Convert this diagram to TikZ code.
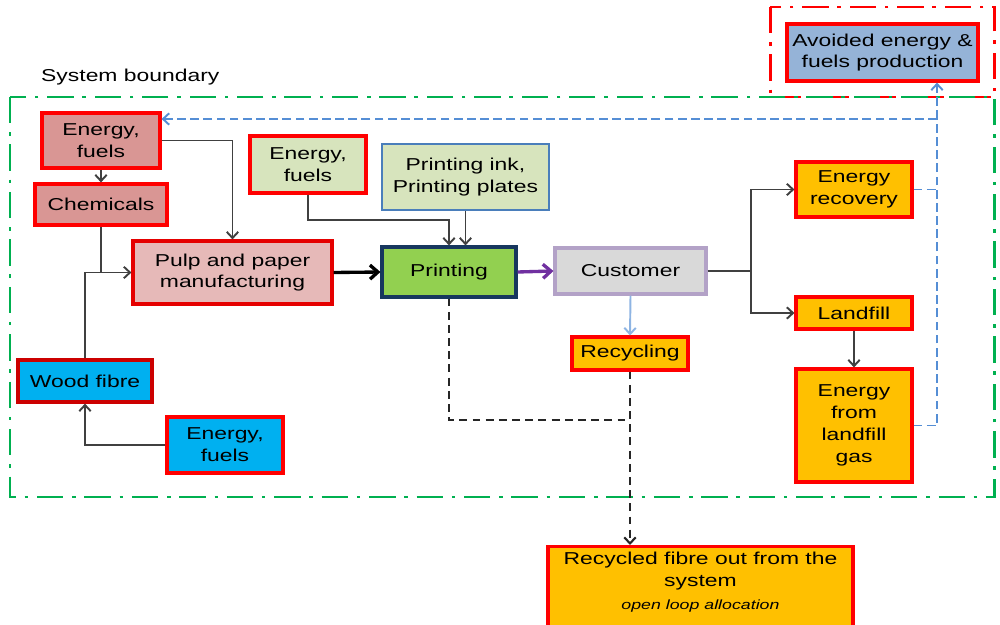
\documentclass[tikz,border=0pt]{standalone}
\usepackage{fontspec}
\setmainfont[FakeStretch=1.33]{Liberation Sans}
\usetikzlibrary{arrows.meta}

\definecolor{redfill}{HTML}{D99694}
\definecolor{pinkfill}{HTML}{E6B9B8}
\definecolor{greenfill}{HTML}{D7E4BD}
\definecolor{printgreen}{HTML}{92D050}
\definecolor{navy}{HTML}{17375E}
\definecolor{inkblue}{HTML}{4A7EBB}
\definecolor{custgrey}{HTML}{D9D9D9}
\definecolor{lilac}{HTML}{B3A2C7}
\definecolor{amber}{HTML}{FFC000}
\definecolor{skyfill}{HTML}{00B0F0}
\definecolor{avoidblue}{HTML}{95B3D7}
\definecolor{flowgrey}{HTML}{404040}
\definecolor{purpleflow}{HTML}{7030A0}
\definecolor{dashblue}{HTML}{558ED5}
\definecolor{paleblue}{HTML}{8EB4E3}
\definecolor{boundgreen}{HTML}{00B050}

\tikzset{
  box/.style={draw=red, line width=1.8pt, align=center, inner sep=2pt,
    font=\fontsize{9.8}{12.4}\selectfont},
  flow/.style={draw=flowgrey, line width=1.1pt, -{Straight Barb[length=3.5pt,width=6.5pt]}},
  bigflow/.style={line width=1.9pt, -{Straight Barb[length=4.5pt,width=8pt]}},
  reuse/.style={draw=dashblue, line width=1.1pt, dash pattern=on 5pt off 2.5pt},
  loopout/.style={draw=black!85, line width=1.2pt, dash pattern=on 4.5pt off 3pt},
  border/.style={line width=1.7pt, dash pattern=on 15pt off 5pt on 2pt off 5pt}
}

\begin{document}
\begin{tikzpicture}
\useasboundingbox (0,0) rectangle (20,-12.5);

%% boundaries
\draw[border, draw=red] (15.40,-0.14) rectangle (19.88,-1.94);
\draw[border, draw=boundgreen] (0.20,-1.94) rectangle (19.88,-9.94);
\node (sysb) [anchor=west, font=\fontsize{9.8}{12}\selectfont] at (0.70,-1.54) {System boundary};

%% boxes
\node (ef1) [box, fill=redfill, minimum width=2.36cm, minimum height=1.10cm] at (2.02,-2.81) {Energy,\\fuels};
\node (chem) [box, fill=redfill, minimum width=2.64cm, minimum height=0.82cm] at (2.02,-4.09) {Chemicals};
\node (pulp) [box, draw=red!90!black, fill=pinkfill, minimum width=3.98cm, minimum height=1.26cm] at (4.65,-5.45) {Pulp and paper\\manufacturing};
\node (wood) [box, draw=red!80!black, fill=skyfill, minimum width=2.68cm, minimum height=0.84cm] at (1.70,-7.62) {Wood fibre};
\node (ef3) [box, fill=skyfill, minimum width=2.32cm, minimum height=1.12cm] at (4.50,-8.90) {Energy,\\fuels};
\node (ef2) [box, fill=greenfill, minimum width=2.32cm, minimum height=1.14cm] at (6.16,-3.29) {Energy,\\fuels};
\node (ink) [box, draw=inkblue, line width=1.4pt, fill=greenfill, minimum width=3.34cm, minimum height=1.32cm] at (9.31,-3.54) {Printing ink,\\Printing plates};
\node (print) [box, draw=navy, fill=printgreen, minimum width=2.68cm, minimum height=1.00cm] at (8.98,-5.44) {Printing};
\node (cust) [box, draw=lilac, fill=custgrey, minimum width=3.02cm, minimum height=0.92cm] at (12.61,-5.42) {Customer};
\node (recyc) [box, fill=amber, minimum width=2.32cm, minimum height=0.66cm] at (12.60,-7.07) {Recycling};
\node (erec) [box, fill=amber, minimum width=2.32cm, minimum height=1.10cm] at (17.08,-3.79) {Energy\\recovery};
\node (landf) [box, fill=amber, minimum width=2.32cm, minimum height=0.64cm] at (17.08,-6.26) {Landfill};
\node (elfg) [box, fill=amber, minimum width=2.32cm, minimum height=2.26cm] at (17.08,-8.51) {Energy\\from\\landfill\\gas};
\node (avoid) [box, fill=avoidblue, minimum width=3.82cm, minimum height=1.14cm] at (17.65,-1.05) {Avoided energy \&\\fuels production};
\node (out) [box, fill=amber, anchor=north, inner sep=3pt, minimum width=6.10cm] at (14.01,-10.90)
  {\parbox[t][1.60cm][t]{5.8cm}{\centering Recycled fibre out from the\\system\\[1pt]
   {\fontsize{7.6}{9}\selectfont\itshape open loop allocation}}};

\coordinate (k1) at (8.98,-4.40);
\coordinate (split) at (15.02,-5.42);
\coordinate (k3) at (18.74,-2.38);
\coordinate (k4) at (12.60,-8.40);

%% flows
\draw[flow] (ef1.south) -- (chem.north);
\draw[flow] (ef1.east) -| (pulp.north);
\draw[flow] (chem.south) |- (pulp.west);
\draw[draw=flowgrey, line width=1.1pt] (wood.north) |- (chem.south |- pulp.west);
\draw[flow] (ef3.west) -| (wood.south);
\draw[bigflow, draw=black] (pulp.east) -- (print.west);
\draw[flow] (ef2.south) |- (k1) -- (print.north);
\draw[flow] (ink.south) -- (ink.south |- print.north);
\draw[bigflow, draw=purpleflow] (print.east) -- (cust.west);
\draw[flow, draw=paleblue] (cust.south) -- (recyc.north);
\draw[draw=flowgrey, line width=1.1pt] (cust.east) -- (split);
\draw[flow] (split) |- (erec.west);
\draw[flow] (split) |- (landf.west);
\draw[flow] (landf.south) -- (elfg.north);

\draw[reuse] (erec.east) -- (erec.east -| k3);
\draw[reuse] (elfg.east) -| (k3);
\draw[reuse, -{Straight Barb[length=3.5pt,width=6.5pt]}] (k3) -- (avoid.south -| k3);
\draw[reuse, -{Straight Barb[length=3.5pt,width=6.5pt]}] (k3) -- (ef1.east |- k3);

\draw[loopout] (print.south) |- (k4);
\draw[loopout, -{Straight Barb[length=3.5pt,width=6.5pt]}] (recyc.south) -- (recyc.south |- out.north);
\end{tikzpicture}
\end{document}
